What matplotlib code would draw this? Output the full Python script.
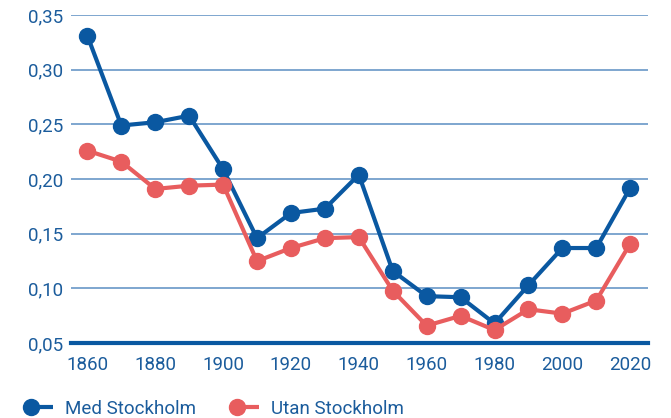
import matplotlib
matplotlib.use("Agg")
import matplotlib.pyplot as plt
from matplotlib.ticker import FuncFormatter
from matplotlib.legend_handler import HandlerBase
from matplotlib.lines import Line2D

years = [1860, 1870, 1880, 1890, 1900, 1910, 1920, 1930, 1940, 1950,
         1960, 1970, 1980, 1990, 2000, 2010, 2020]
med_stockholm = [0.331, 0.249, 0.252, 0.258, 0.209, 0.146, 0.169, 0.173, 0.204, 0.116,
                 0.093, 0.092, 0.068, 0.103, 0.137, 0.137, 0.192]
utan_stockholm = [0.226, 0.216, 0.191, 0.194, 0.195, 0.125, 0.137, 0.146, 0.147, 0.098,
                  0.066, 0.075, 0.062, 0.081, 0.077, 0.089, 0.141]
labels = ["Med Stockholm", "Utan Stockholm"]
yticks = [0.05, 0.10, 0.15, 0.20, 0.25, 0.30, 0.35]
xticks = [1860, 1880, 1900, 1920, 1940, 1960, 1980, 2000, 2020]

BLUE = "#0a58a1"
RED = "#e85d5e"
GRID = "#7ea6cf"
TXT = "#1b5c9c"

plt.rcParams['font.family'] = ['Roboto', 'DejaVu Sans']


class LeftMarkerHandler(HandlerBase):
    def create_artists(self, legend, orig_handle, xdescent, ydescent,
                       width, height, fontsize, trans):
        y = (height - ydescent) / 2.0
        x0 = -xdescent
        x1 = -xdescent + width
        ms = orig_handle.get_markersize()
        r_pts = ms / 2.0
        line = Line2D([x0 + r_pts, x1], [y, y], color=orig_handle.get_color(),
                      lw=orig_handle.get_linewidth(), solid_capstyle='butt',
                      transform=trans)
        mk = Line2D([x0 + r_pts], [y], color=orig_handle.get_color(),
                    marker='o', ms=ms, lw=0, transform=trans)
        return [line, mk]


fig = plt.figure(figsize=(6.71, 4.18), dpi=100)
ax = fig.add_axes([0.106, 0.179, 0.86, 0.785])

l1, = ax.plot(years, med_stockholm, color=BLUE, lw=3.0, marker='o', ms=11.5,
              label=labels[0], zorder=3, solid_joinstyle='round')
l2, = ax.plot(years, utan_stockholm, color=RED, lw=3.0, marker='o', ms=11.5,
              label=labels[1], zorder=4, solid_joinstyle='round')

ax.set_xlim(1855.2, 2025.3)
ax.set_ylim(0.05, 0.35)
ax.set_yticks(yticks)
ax.set_xticks(xticks)
ax.yaxis.set_major_formatter(FuncFormatter(lambda v, p: f"{v:.2f}".replace('.', ',')))

for y in yticks[1:]:
    ax.axhline(y, color=GRID, lw=1.4, zorder=1)

for s in ['top', 'right', 'left']:
    ax.spines[s].set_visible(False)
ax.spines['bottom'].set_color(BLUE)
ax.spines['bottom'].set_linewidth(3.0)
ax.spines['bottom'].set_zorder(5)

ax.tick_params(axis='both', length=0, labelsize=13.5, labelcolor=TXT)
ax.tick_params(axis='x', pad=9)
ax.tick_params(axis='y', pad=6)

leg = fig.legend(handles=[l1, l2], loc='center left',
                 bbox_to_anchor=(23 / 671, 1 - 409 / 418),
                 ncol=2, frameon=False, fontsize=13.5, handlelength=1.6,
                 handletextpad=0.64, columnspacing=1.76, labelcolor=TXT,
                 borderpad=0, borderaxespad=0,
                 handler_map={Line2D: LeftMarkerHandler()})

fig.savefig("out.png", dpi=100)
